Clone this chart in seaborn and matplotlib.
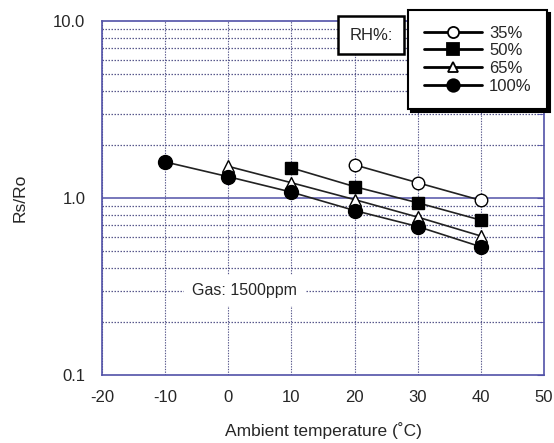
import numpy as np
import pandas as pd
import seaborn as sns
import matplotlib
matplotlib.use("Agg")
import matplotlib.pyplot as plt
from matplotlib.lines import Line2D
from matplotlib.ticker import LogLocator, NullFormatter

# data
temp_35 = [20, 30, 40]
rs_35 = [1.54, 1.22, 0.97]
temp_50 = [10, 20, 30, 40]
rs_50 = [1.48, 1.16, 0.94, 0.75]
temp_65 = [0, 10, 20, 30, 40]
rs_65 = [1.51, 1.22, 0.98, 0.78, 0.61]
temp_100 = [-10, 0, 10, 20, 30, 40]
rs_100 = [1.60, 1.32, 1.08, 0.85, 0.69, 0.53]

series_labels = ["35%", "50%", "65%", "100%"]
x_ticks = [-20, -10, 0, 10, 20, 30, 40, 50]
y_ticks = [0.1, 1, 10]
y_tick_labels = ["0.1", "1.0", "10.0"]

df = pd.concat([
    pd.DataFrame({"temp": temp_35, "rs": rs_35, "rh": "35%"}),
    pd.DataFrame({"temp": temp_50, "rs": rs_50, "rh": "50%"}),
    pd.DataFrame({"temp": temp_65, "rs": rs_65, "rh": "65%"}),
    pd.DataFrame({"temp": temp_100, "rs": rs_100, "rh": "100%"}),
])

sns.set_style("white")
plt.rcParams["font.family"] = ["Liberation Sans", "DejaVu Sans"]
plt.rcParams["axes.unicode_minus"] = False

blue = "#5252a8"
grid_c = "#3c3c78"
line_c = "#222222"

fig = plt.figure(figsize=(5.54, 4.43), dpi=100)
ax = fig.add_axes([0.184, 0.1535, 0.798, 0.799])

# marker style per series
styles = {
    "35%": dict(marker="o", mfc="white", ms=9),
    "50%": dict(marker="s", mfc="black", ms=9),
    "65%": dict(marker="^", mfc="white", ms=8),
    "100%": dict(marker="o", mfc="black", ms=10),
}

for lab in series_labels:
    sub = df[df["rh"] == lab]
    st = styles[lab]
    sns.lineplot(data=sub, x="temp", y="rs", ax=ax, color=line_c, lw=1.2,
                 marker=st["marker"], markersize=st["ms"],
                 markerfacecolor=st["mfc"], markeredgecolor="black",
                 markeredgewidth=1.0, errorbar=None, zorder=4)

ax.set_yscale("log")
ax.set_ylim(0.1, 10)
ax.set_xlim(-20, 50)
ax.set_xticks(x_ticks)
ax.set_yticks(y_ticks)
ax.set_yticklabels(y_tick_labels)
ax.yaxis.set_minor_locator(LogLocator(base=10, subs=np.arange(2, 10)))
ax.yaxis.set_minor_formatter(NullFormatter())

ax.grid(False)
ax.grid(which="minor", axis="y", linestyle=(0, (1.2, 1.2)), color=grid_c, lw=0.9, alpha=0.85)
ax.grid(which="major", axis="x", linestyle=(0, (1.2, 1.2)), color=grid_c, lw=0.8, alpha=0.85)
ax.axhline(1, color=blue, lw=1.1, zorder=2)

for s in ax.spines.values():
    s.set_color(blue)
    s.set_linewidth(1.2)

ax.tick_params(axis="y", which="both", direction="in", color=blue, right=True,
               length=5, labelsize=12, pad=12)
ax.tick_params(axis="x", which="both", length=0, labelsize=12, pad=11)

ax.set_xlabel("Ambient temperature (˚C)", fontsize=12.5, labelpad=12)
ax.set_ylabel("Rs/Ro", fontsize=12.5, labelpad=18)

ax.text(-5.7, 0.3, "Gas: 1500ppm", fontsize=11.5, va="center", ha="left",
        bbox=dict(facecolor="white", edgecolor="none", pad=6), zorder=3)

# legend
handles = [Line2D([], [], color="black", lw=2, marker=styles[l]["marker"],
                  markersize=styles[l]["ms"] - 1, markerfacecolor=styles[l]["mfc"],
                  markeredgecolor="black", markeredgewidth=1.3) for l in series_labels]
leg = fig.legend(handles, series_labels, loc="upper right",
                 bbox_to_anchor=(0.988, 0.978), frameon=True, fancybox=False,
                 shadow={"color": "black", "alpha": 1}, fontsize=12,
                 handlelength=3.5, labelspacing=0.16, handletextpad=0.4,
                 borderpad=0.95, borderaxespad=0)
leg.get_frame().set_edgecolor("black")
leg.get_frame().set_linewidth(1.5)
leg.get_frame().set_alpha(1)

fig.text(371 / 554, 1 - 35 / 443, "RH%:", fontsize=12, ha="center", va="center",
         bbox=dict(boxstyle="square,pad=0.7", facecolor="white",
                   edgecolor="black", lw=1.8))

fig.savefig("out.png", dpi=100)
